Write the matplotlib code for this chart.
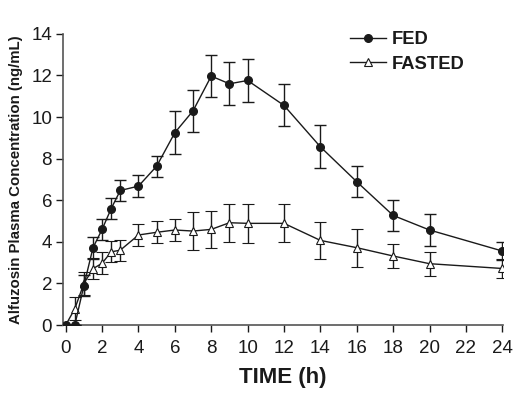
import numpy as np
import matplotlib
matplotlib.use('Agg')
import matplotlib.pyplot as plt
from matplotlib import font_manager

# ---------------------------------------------------------------------------
# Data
# ---------------------------------------------------------------------------
TIME = [0, 0.5, 1, 1.5, 2, 2.5, 3, 4, 5, 6, 7, 8, 9, 10, 12, 14, 16, 18, 20, 24]

FED_MEAN = [0, 0, 1.9, 3.72, 4.6, 5.6, 6.47, 6.68, 7.64, 9.25, 10.3, 11.97,
            11.6, 11.76, 10.56, 8.57, 6.89, 5.27, 4.57, 3.56]
FED_ERR = [0, 0, 0.51, 0.53, 0.51, 0.51, 0.52, 0.52, 0.5, 1.03, 1.02, 1.01,
           1.03, 1.03, 1.01, 1.03, 0.75, 0.73, 0.75, 0.42]

FASTED_MEAN = [0, 0.78, 2.0, 2.71, 2.97, 3.52, 3.6, 4.33, 4.46, 4.57, 4.52, 4.6,
               4.92, 4.89, 4.89, 4.07, 3.72, 3.32, 2.95, 2.72]
FASTED_ERR = [0, 0.55, 0.56, 0.5, 0.52, 0.5, 0.5, 0.52, 0.52, 0.51, 0.9, 0.9,
              0.91, 0.94, 0.92, 0.9, 0.91, 0.6, 0.57, 0.44]

X_TICKS = list(range(0, 25, 2))
Y_TICKS = list(range(0, 15, 2))

# ---------------------------------------------------------------------------
# Fonts
# ---------------------------------------------------------------------------
names = {f.name for f in font_manager.fontManager.ttflist}
NARROW = 'Liberation Sans Narrow' if 'Liberation Sans Narrow' in names else 'Liberation Sans'
plt.rcParams['font.family'] = ['Liberation Sans', 'DejaVu Sans']

INK = '#1a1a1a'

fig = plt.figure(figsize=(5.22, 3.94), dpi=100)
ax = fig.add_axes([0.121, 0.175, 0.843, 0.739])

ax.errorbar(TIME, FED_MEAN, yerr=FED_ERR, color=INK, marker='o', markersize=5.5,
            markerfacecolor=INK, markeredgecolor=INK, linewidth=1.0,
            elinewidth=1.0, capsize=4.5, capthick=1.0, label='FED', zorder=3)
ax.errorbar(TIME, FASTED_MEAN, yerr=FASTED_ERR, color=INK, marker='^', markersize=5.5,
            markerfacecolor='white', markeredgecolor=INK, markeredgewidth=0.8,
            linewidth=1.0, elinewidth=1.0, capsize=4.5, capthick=1.0,
            label='FASTED', zorder=2)

ax.set_xlim(-0.14, 24.05)
ax.set_ylim(0, 14)
ax.set_xticks(X_TICKS)
ax.set_yticks(Y_TICKS)
ax.tick_params(axis='both', direction='out', length=5, width=1.0, color=INK,
               labelsize=13.5, labelcolor=INK)
ax.tick_params(axis='x', pad=6)
ax.tick_params(axis='y', pad=3)

for s in ['top', 'right']:
    ax.spines[s].set_visible(False)
for s in ['left', 'bottom']:
    ax.spines[s].set_color('#555555')
    ax.spines[s].set_linewidth(1.2)

ax.set_xlabel('TIME (h)', fontsize=16, fontweight='bold', color=INK, labelpad=7)
ax.set_ylabel('Alfuzosin Plasma Concentration (ng/mL)', fontsize=10.8,
              fontweight='bold', color=INK, family=NARROW, labelpad=6)

handles, labels = ax.get_legend_handles_labels()
handles = [h[0] for h in handles]
leg = ax.legend(handles, labels, loc='upper right', bbox_to_anchor=(0.95, 1.065),
                frameon=False, handlelength=2.0, handletextpad=0.3,
                labelspacing=0.4, prop={'weight': 'bold', 'size': 13.2})
for t in leg.get_texts():
    t.set_color(INK)

fig.savefig('out.png', dpi=100)
plt.close(fig)
